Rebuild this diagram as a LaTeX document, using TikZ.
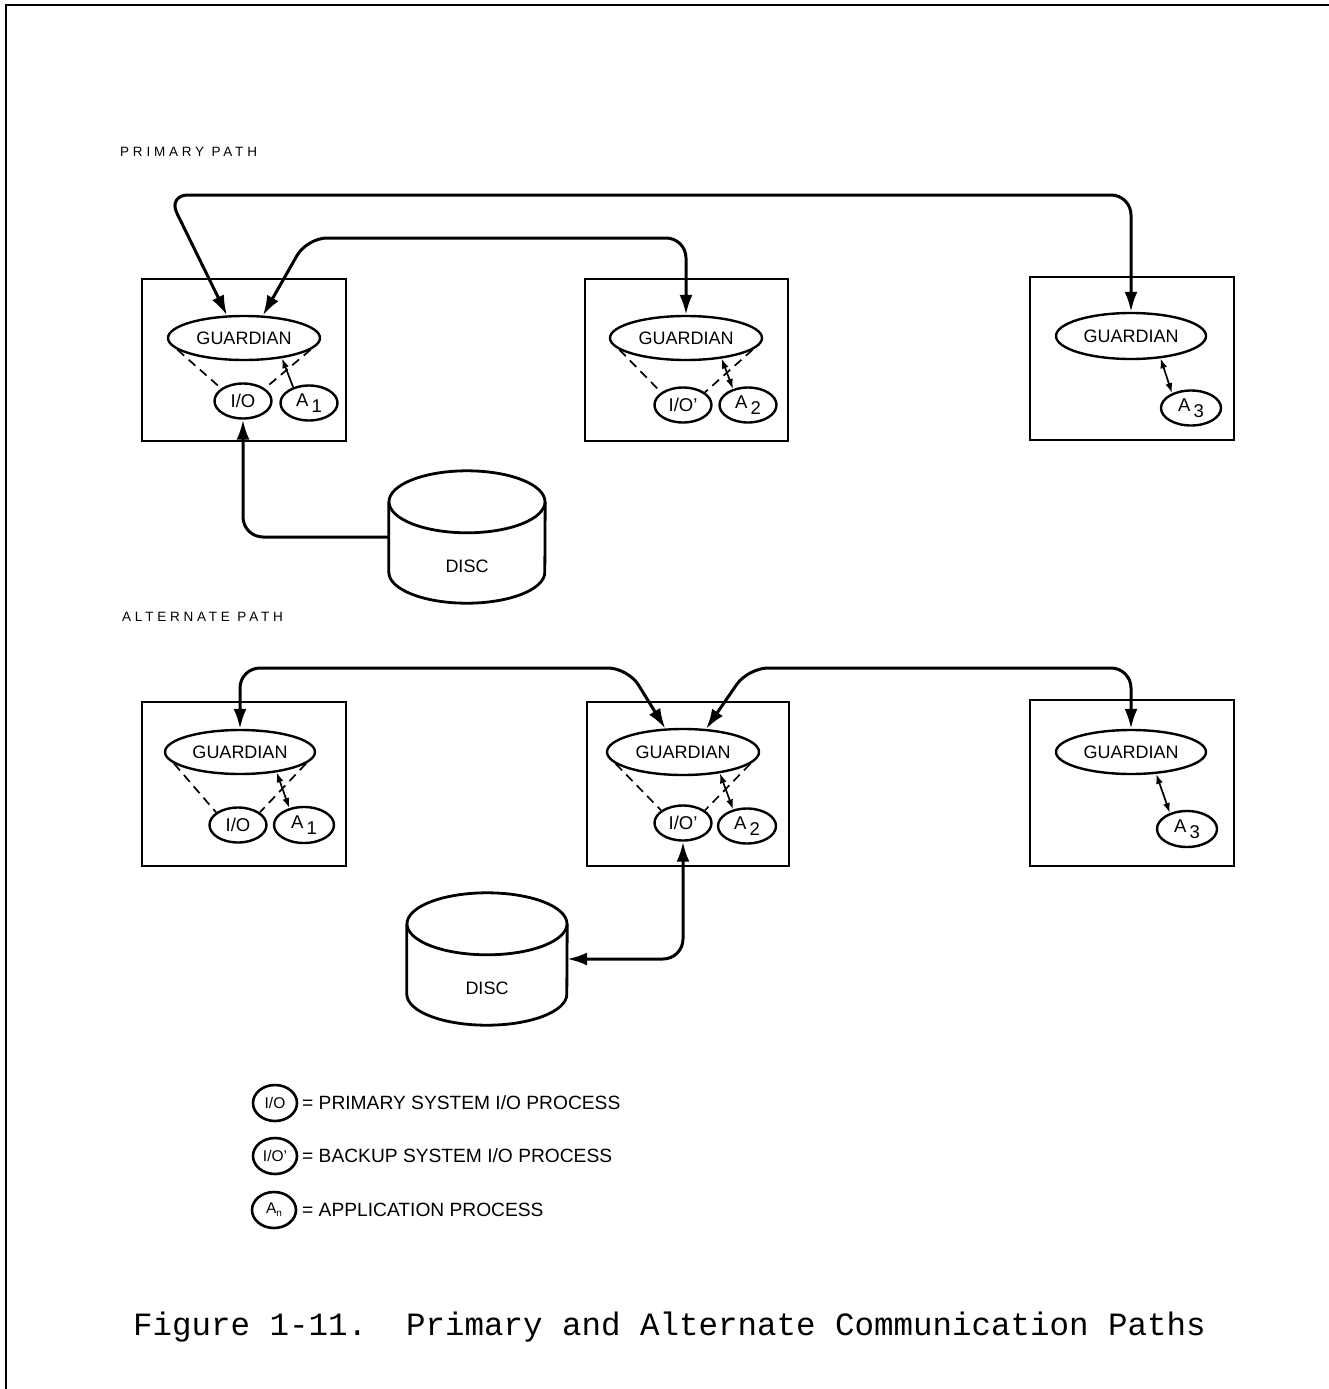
\documentclass[tikz,border=0pt]{standalone}
\usepackage{fontspec}
\setmainfont{Liberation Sans}
\newfontfamily\capfont{Liberation Mono}
\newfontfamily\spacedfont[LetterSpace=28]{Liberation Sans}
\usetikzlibrary{arrows.meta,shapes.geometric}
\newcommand{\Asub}[1]{A\kern3pt\raisebox{-6pt}{#1}}
\tikzset{
  boxnode/.style={draw, line width=2.8pt, inner sep=0pt},
  guardnode/.style={draw, ellipse, line width=2.4pt, minimum width=152pt, minimum height=44pt, inner sep=0pt, font=\fontsize{18}{21}\selectfont},
  procnode/.style={draw, ellipse, line width=2.4pt, minimum width=57pt, minimum height=35pt, inner sep=0pt, font=\fontsize{18.5}{21}\selectfont},
  legnode/.style={draw, ellipse, line width=2.6pt, minimum width=44pt, minimum height=36pt, inner sep=0pt, font=\fontsize{15.5}{18}\selectfont},
  legtext/.style={anchor=west, inner sep=0pt, font=\fontsize{19.2}{22}\selectfont},
  pathlabel/.style={anchor=west, inner sep=0pt, font=\spacedfont\fontsize{13.5}{16}\selectfont},
  bighead/.tip={Latex[length=20pt,width=13pt]},
  smallhead/.tip={Latex[length=10pt,width=7pt]},
  biglink/.style={line width=3pt, rounded corners=20pt, bighead-bighead},
  onelink/.style={line width=3pt, rounded corners=20pt, -bighead},
  smalllink/.style={line width=1.7pt, smallhead-smallhead},
  dashlink/.style={line width=1.7pt, dash pattern=on 9pt off 6pt},
  discline/.style={line width=2.8pt},
}
\begin{document}
\begin{tikzpicture}[x=1pt,y=-1pt]
\useasboundingbox (0,0) rectangle (1329,1389);
% frame
\draw[line width=2.5pt] (6,1389) -- (6,5) -- (1329,5);

% ---------- PRIMARY PATH ----------
\node[pathlabel] (lp) at (120,152) {PRIMARY PATH};

\node[boxnode, minimum width=204pt, minimum height=162pt] (b1) at (244,360) {};
\node[boxnode, minimum width=203pt, minimum height=162pt] (b2) at (686.5,360) {};
\node[boxnode, minimum width=204pt, minimum height=163pt] (b3) at (1132,358.5) {};

\node[guardnode] (g1) at (244,338) {GUARDIAN};
\node[guardnode] (g2) at (686,338) {GUARDIAN};
\node[guardnode, minimum width=150pt, minimum height=46pt] (g3) at (1131,336) {GUARDIAN};

\node[procnode] (io1) at (243,401) {I/O};
\node[procnode] (a1) at (309,403) {\Asub{1}};
\node[procnode] (io2) at (683,405) {I/O'};
\node[procnode] (a2) at (748,405) {\Asub{2}};
\node[procnode, minimum width=60pt] (a3) at (1191,408) {\Asub{3}};

\draw[dashlink] (g1.190) -- (io1.150);
\draw[dashlink] (g1.350) -- (io1.30);
\draw[dashlink] (g2.190) -- (io2.150);
\draw[dashlink] (g2.350) -- (io2.30);

\draw[line width=1.7pt, -smallhead] (a1.135) -- (g1.332);
\draw[smalllink] (a2.133) -- (g2.330);
\draw[smalllink] (a3.142) -- (g3.323);

\draw[biglink] (g1.127) -- (168,195) -| (g3.north);
\draw[biglink] (g1.50) -- (307,238) -| (g2.north);

\node[minimum width=156pt, minimum height=70pt, inner sep=0pt] (d1) at (467,537) {};
\draw[discline, fill=white] (d1.north west) -- (d1.south west) arc[start angle=180, end angle=0, x radius=78, y radius=31] -- (d1.north east);
\draw[discline] (d1.north) ellipse[x radius=78, y radius=31];
\node[font=\fontsize{18}{21}\selectfont] (d1t) at (467,566) {DISC};
\draw[onelink] (d1.west) -| (io1.south);

% ---------- ALTERNATE PATH ----------
\node[pathlabel] (la) at (122,617) {ALTERNATE PATH};

\node[boxnode, minimum width=204pt, minimum height=164pt] (b4) at (244,784) {};
\node[boxnode, minimum width=202pt, minimum height=164pt] (b5) at (688,784) {};
\node[boxnode, minimum width=204pt, minimum height=166pt] (b6) at (1132,783) {};

\node[guardnode, minimum width=150pt] (g4) at (240,752) {GUARDIAN};
\node[guardnode, minimum height=46pt] (g5) at (683,752) {GUARDIAN};
\node[guardnode, minimum width=150pt] (g6) at (1131,752) {GUARDIAN};

\node[procnode] (io4) at (238,825) {I/O};
\node[procnode, minimum width=60pt, minimum height=36pt] (a4) at (304,825) {\Asub{1}};
\node[procnode] (io5) at (683,823) {I/O'};
\node[procnode, minimum width=58pt] (a5) at (747,826) {\Asub{2}};
\node[procnode, minimum width=60pt, minimum height=36pt] (a6) at (1187,829) {\Asub{3}};

\draw[dashlink] (g4.190) -- (io4.150);
\draw[dashlink] (g4.350) -- (io4.30);
\draw[dashlink] (g5.190) -- (io5.150);
\draw[dashlink] (g5.350) -- (io5.30);

\draw[smalllink] (a4.131) -- (g4.331);
\draw[smalllink] (a5.130) -- (g5.330);
\draw[smalllink] (a6.137) -- (g6.319);

\draw[biglink] (g4.north) |- (628,668) -- (g5.127);
\draw[biglink] (g5.45) -- (748,668) -| (g6.north);

\node[minimum width=160pt, minimum height=70pt, inner sep=0pt] (d2) at (487,959) {};
\draw[discline, fill=white] (d2.north west) -- (d2.south west) arc[start angle=180, end angle=0, x radius=80, y radius=31] -- (d2.north east);
\draw[discline] (d2.north) ellipse[x radius=80, y radius=31];
\node[font=\fontsize{18}{21}\selectfont] (d2t) at (487,988) {DISC};
\draw[biglink] (io5.south) |- (d2.east);

% ---------- legend ----------
\node[legnode] (le1) at (275,1103) {I/O};
\node[legtext] (lt1) at (302,1103) {= PRIMARY SYSTEM I/O PROCESS};
\node[legnode] (le2) at (275,1156) {I/O'};
\node[legtext] (lt2) at (302,1156) {= BACKUP SYSTEM I/O PROCESS};
\node[legnode] (le3) at (274,1210) {A\raisebox{-3pt}{\fontsize{10}{12}\selectfont n}};
\node[legtext] (lt3) at (302,1210) {= APPLICATION PROCESS};

% ---------- caption ----------
\node[anchor=west, inner sep=0pt, font=\capfont\fontsize{32.5}{36}\selectfont] (cap) at (133,1327) {Figure 1-11.\ \ Primary and Alternate Communication Paths};
\end{tikzpicture}
\end{document}
